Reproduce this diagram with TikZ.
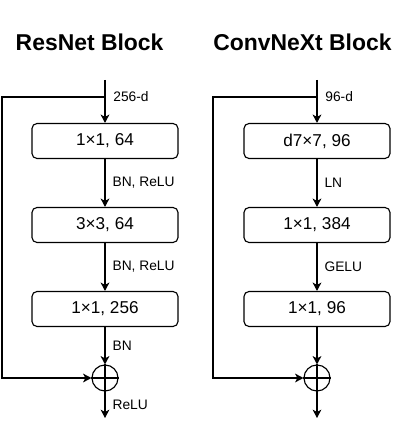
\documentclass[tikz,border=0pt]{standalone}
\usepackage{fontspec}
\setmainfont{Liberation Sans}
\usepackage{tikz}
\usetikzlibrary{positioning, arrows.meta}

\begin{document}
\begin{tikzpicture}[
    line width=0.8pt,
    ttl/.style={font=\fontsize{16.3}{19}\selectfont\bfseries},
    layer/.style={draw, rounded corners=1.25mm, minimum width=36.5mm,
        minimum height=8.75mm, inner sep=1pt,
        font=\fontsize{12.2}{14}\selectfont},
    lbl/.style={font=\fontsize{9.8}{11}\selectfont, inner sep=1pt},
    sum/.style={draw, circle, minimum size=6.5mm, inner sep=0pt},
    arr/.style={-{Stealth[length=2.1mm, width=2.2mm, inset=0.6mm]}},
  ]
  \useasboundingbox (0mm,0mm) rectangle (100mm,-111.75mm);
  % ResNet column
  \node[ttl] (titleA) at (22.4mm,-10.5mm) {ResNet Block};
  \coordinate (inA) at (26.25mm,-20mm);
  \coordinate (splitA) at (26.25mm,-24.25mm);
  \coordinate (railA) at (0.5mm,-24.25mm);
  \node[layer] (convA1) at (26.25mm,-35.25mm) {1×1, 64};
  \node[layer] (convA2) at (26.25mm,-56.25mm) {3×3, 64};
  \node[layer] (convA3) at (26.25mm,-77.25mm) {1×1, 256};
  \node[sum] (sumA) at (26.25mm,-94.5mm) {};
  \coordinate (outA) at (26.25mm,-104.5mm);
  \draw[arr] (inA) -- (convA1.north);
  \node[lbl, right=1.6mm of splitA] (dimA) {256-d};
  \draw[arr] (convA1) -- node[lbl, right=1.4mm] {BN, ReLU} (convA2);
  \draw[arr] (convA2) -- node[lbl, right=1.4mm] {BN, ReLU} (convA3);
  \draw[arr] (convA3) -- node[lbl, right=1.4mm] {BN} (sumA);
  \draw[arr] (sumA) -- node[lbl, right=1.4mm] {ReLU} (outA);
  \draw[arr] (splitA) -- (railA) |- (sumA.west);
  \draw (sumA.north) -- (sumA.south) (sumA.west) -- (sumA.east);
  % ConvNeXt column
  \node[ttl] (titleB) at (75.6mm,-10.5mm) {ConvNeXt Block};
  \coordinate (inB) at (79.25mm,-20mm);
  \coordinate (splitB) at (79.25mm,-24.25mm);
  \coordinate (railB) at (53.25mm,-24.25mm);
  \node[layer] (convB1) at (79.25mm,-35.25mm) {d7×7, 96};
  \node[layer] (convB2) at (79.25mm,-56.25mm) {1×1, 384};
  \node[layer] (convB3) at (79.25mm,-77.25mm) {1×1, 96};
  \node[sum] (sumB) at (79.25mm,-94.5mm) {};
  \coordinate (outB) at (79.25mm,-104.5mm);
  \draw[arr] (inB) -- (convB1.north);
  \node[lbl, right=1.6mm of splitB] (dimB) {96-d};
  \draw[arr] (convB1) -- node[lbl, right=1.4mm] {LN} (convB2);
  \draw[arr] (convB2) -- node[lbl, right=1.4mm] {GELU} (convB3);
  \draw[arr] (convB3) -- (sumB);
  \draw[arr] (sumB) -- (outB);
  \draw[arr] (splitB) -- (railB) |- (sumB.west);
  \draw (sumB.north) -- (sumB.south) (sumB.west) -- (sumB.east);
\end{tikzpicture}
\end{document}
